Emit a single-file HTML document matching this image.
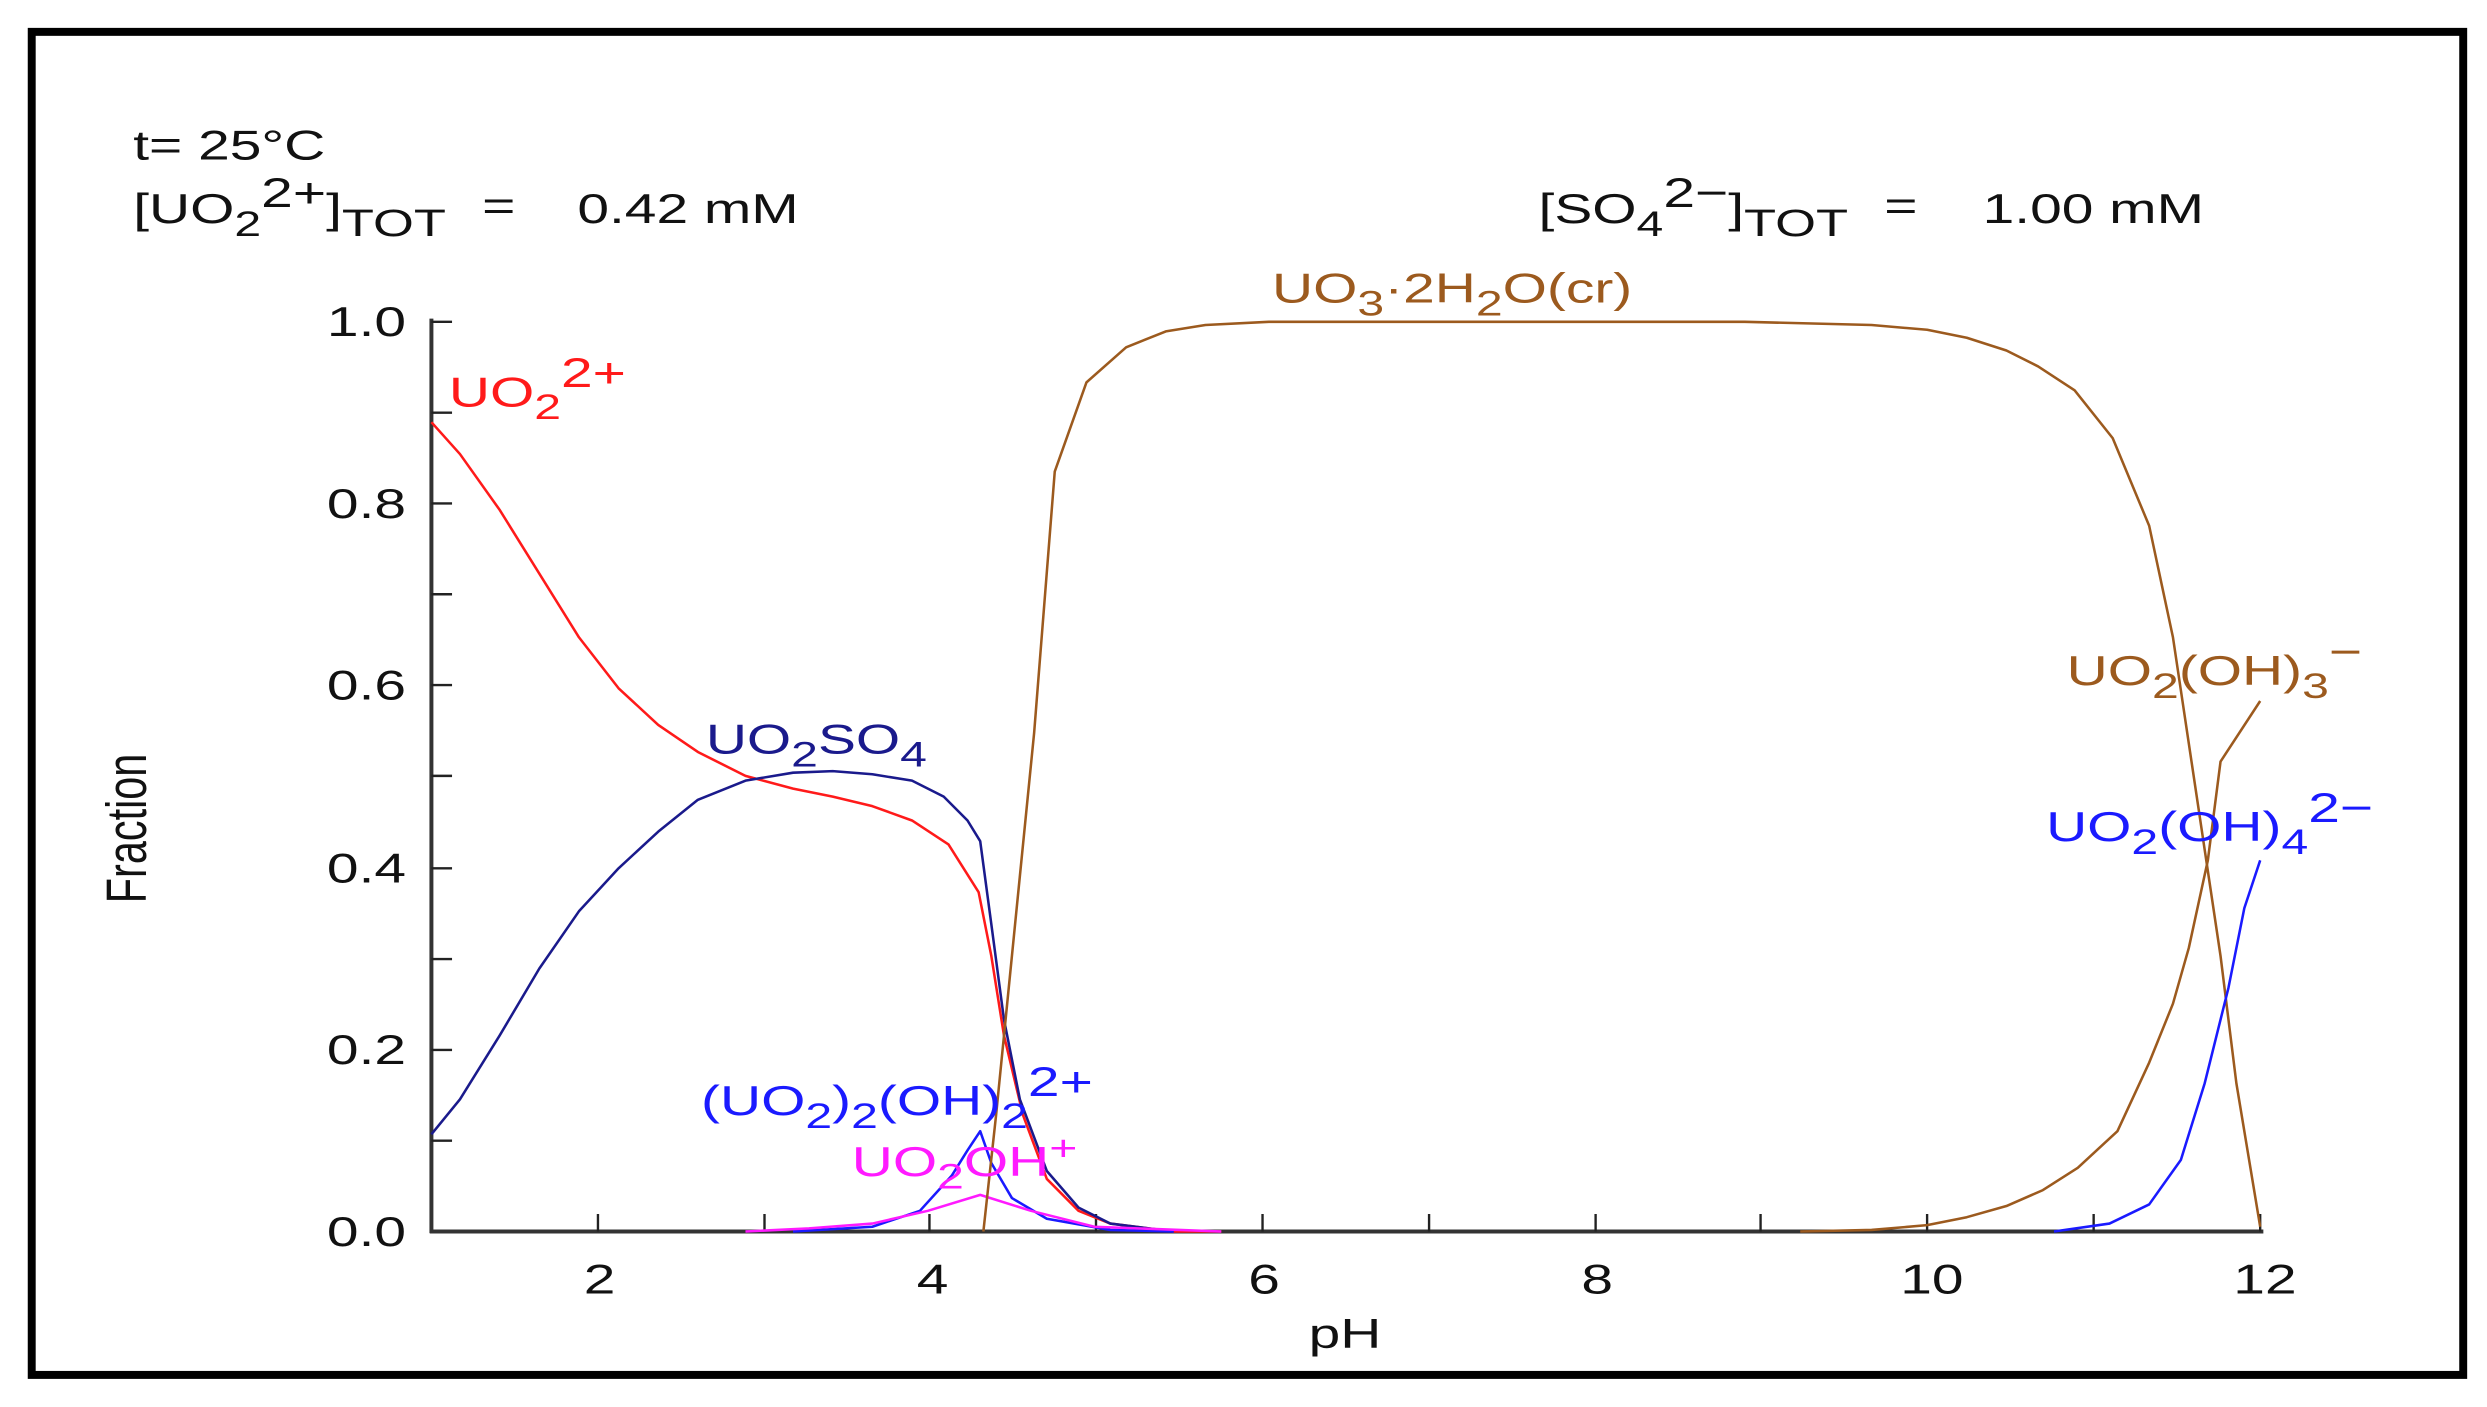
<!DOCTYPE html>
<html><head><style>html,body{margin:0;padding:0;background:#fff}</style></head>
<body>
<svg width="2487" height="1402" viewBox="0 0 1568 880" preserveAspectRatio="none" xmlns="http://www.w3.org/2000/svg" font-family="Liberation Sans, Arial, sans-serif">
<rect x="0" y="0" width="1568" height="880" fill="#fff"/>
<rect x="20" y="20" width="1533" height="843" fill="none" stroke="#000" stroke-width="5"/>
<g font-size="26" fill="#111">
<text transform="translate(84,100) scale(1.38,1)">t= 25°C</text>
<text transform="translate(84,140) scale(1.38,1)">[UO<tspan font-size="22" dy="8">2</tspan><tspan dy="-18">2+</tspan><tspan dy="10">]</tspan><tspan font-size="24" dy="8">TOT</tspan></text>
<text transform="translate(304,138) scale(1.38,1)">=</text>
<text transform="translate(364,140) scale(1.38,1)">0.42 mM</text>
<text transform="translate(970,140) scale(1.38,1)">[SO<tspan font-size="22" dy="8">4</tspan><tspan dy="-18">2−</tspan><tspan dy="10">]</tspan><tspan font-size="24" dy="8">TOT</tspan></text>
<text transform="translate(1188,138) scale(1.38,1)">=</text>
<text transform="translate(1250,140) scale(1.38,1)">1.00 mM</text>
</g>
<g stroke="#333" stroke-width="2.5">
<line x1="272" y1="200" x2="272" y2="774"/>
<line x1="271" y1="773" x2="1427" y2="773"/>
</g>
<g stroke="#222" stroke-width="1.5">
<line x1="272" y1="202" x2="285" y2="202"/><line x1="272" y1="259" x2="285" y2="259"/>
<line x1="272" y1="316" x2="285" y2="316"/><line x1="272" y1="373" x2="285" y2="373"/>
<line x1="272" y1="430" x2="285" y2="430"/><line x1="272" y1="487" x2="285" y2="487"/>
<line x1="272" y1="545" x2="285" y2="545"/><line x1="272" y1="602" x2="285" y2="602"/>
<line x1="272" y1="659" x2="285" y2="659"/><line x1="272" y1="716" x2="285" y2="716"/>
<line x1="377" y1="773" x2="377" y2="762"/><line x1="482" y1="773" x2="482" y2="762"/>
<line x1="586" y1="773" x2="586" y2="762"/><line x1="691" y1="773" x2="691" y2="762"/>
<line x1="796" y1="773" x2="796" y2="762"/><line x1="901" y1="773" x2="901" y2="762"/>
<line x1="1006" y1="773" x2="1006" y2="762"/><line x1="1110" y1="773" x2="1110" y2="762"/>
<line x1="1215" y1="773" x2="1215" y2="762"/><line x1="1320" y1="773" x2="1320" y2="762"/>
<line x1="1425" y1="773" x2="1425" y2="762"/>
</g>
<g font-size="26" fill="#111" text-anchor="end">
<text transform="translate(256,211) scale(1.38,1)">1.0</text>
<text transform="translate(256,325) scale(1.38,1)">0.8</text>
<text transform="translate(256,439) scale(1.38,1)">0.6</text>
<text transform="translate(256,554) scale(1.38,1)">0.4</text>
<text transform="translate(256,668) scale(1.38,1)">0.2</text>
<text transform="translate(256,782) scale(1.38,1)">0.0</text>
</g>
<g font-size="26" fill="#111" text-anchor="middle">
<text transform="translate(378,812) scale(1.38,1)">2</text>
<text transform="translate(588,812) scale(1.38,1)">4</text>
<text transform="translate(797,812) scale(1.38,1)">6</text>
<text transform="translate(1007,812) scale(1.38,1)">8</text>
<text transform="translate(1218,812) scale(1.38,1)">10</text>
<text transform="translate(1428,812) scale(1.38,1)">12</text>
<text transform="translate(848,846) scale(1.38,1)">pH</text>
<text transform="translate(92,520) rotate(-90) scale(1,1.38)">Fraction</text>
</g>
<g fill="none" stroke-width="1.6" stroke-linejoin="round">
<polyline stroke="#ff1a1a" points="272,265 290,285 315,320 340,360 365,400 390,432 415,455 440,472 470,487 500,495 525,500 550,506 575,515 598,530 617,560 625,600 633,650 645,700 660,740 680,760 700,768 740,773 770,773"/>
<polyline stroke="#1a1a8c" points="272,712 290,690 315,650 340,608 365,572 390,545 415,522 440,502 470,490 500,485 525,484 550,486 575,490 595,500 610,515 618,528 625,580 633,640 643,690 660,735 680,758 700,768 740,773"/>
<polyline stroke="#1a1aff" points="500,773 550,770 580,760 600,738 610,722 618,710 625,730 638,752 660,765 700,772 740,773"/>
<polyline stroke="#ff1aff" points="470,773 510,771 550,768 585,760 618,750 650,760 690,770 770,773"/>
<polyline stroke="#9c5a1e" points="620,773 628,700 640,580 652,460 665,296 685,240 710,218 735,208 760,204 800,202 1100,202 1180,204 1215,207 1240,212 1265,220 1285,230 1308,245 1332,275 1355,330 1370,400 1385,500 1400,600 1410,680 1425,770"/>
<polyline stroke="#9c5a1e" points="1135,773 1180,772 1215,769 1240,764 1265,757 1288,747 1310,733 1335,710 1355,667 1370,630 1380,595 1392,540 1400,478 1425,440"/>
<polyline stroke="#1a1aff" points="1295,773 1330,768 1355,756 1375,728 1390,680 1405,620 1415,570 1425,540"/>
</g>
<g font-size="26">
<text transform="translate(283,255) scale(1.38,1)" fill="#ff1a1a">UO<tspan font-size="22" dy="8">2</tspan><tspan dy="-20">2+</tspan></text>
<text transform="translate(445,473) scale(1.38,1)" fill="#1a1a8c">UO<tspan font-size="22" dy="8">2</tspan><tspan dy="-8">SO</tspan><tspan font-size="22" dy="8">4</tspan></text>
<text transform="translate(442,700) scale(1.38,1)" fill="#1a1aff">(UO<tspan font-size="22" dy="8">2</tspan><tspan dy="-8">)</tspan><tspan font-size="22" dy="8">2</tspan><tspan dy="-8">(OH)</tspan><tspan font-size="22" dy="8">2</tspan><tspan dy="-20">2+</tspan></text>
<text transform="translate(537,738) scale(1.38,1)" fill="#ff1aff">UO<tspan font-size="22" dy="8">2</tspan><tspan dy="-8">OH</tspan><tspan font-size="22" dy="-10">+</tspan></text>
<text transform="translate(802,190) scale(1.38,1)" fill="#9c5a1e">UO<tspan font-size="22" dy="8">3</tspan><tspan dy="-8">·2H</tspan><tspan font-size="22" dy="8">2</tspan><tspan dy="-8">O(cr)</tspan></text>
<text transform="translate(1303,430) scale(1.38,1)" fill="#9c5a1e">UO<tspan font-size="22" dy="8">2</tspan><tspan dy="-8">(OH)</tspan><tspan font-size="22" dy="8">3</tspan><tspan dy="-20">−</tspan></text>
<text transform="translate(1290,528) scale(1.38,1)" fill="#1a1aff">UO<tspan font-size="22" dy="8">2</tspan><tspan dy="-8">(OH)</tspan><tspan font-size="22" dy="8">4</tspan><tspan dy="-20">2−</tspan></text>
</g>
</svg>
</body></html>
